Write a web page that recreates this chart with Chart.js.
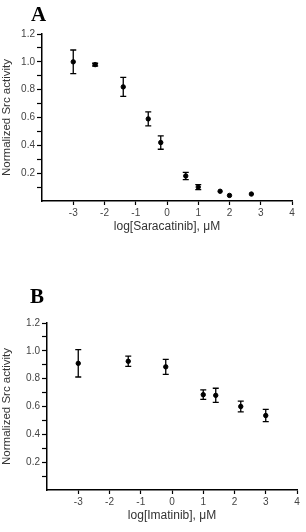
<!DOCTYPE html>
<html>
<head>
<meta charset="utf-8">
<script src="https://cdn.jsdelivr.net/npm/chart.js@4/dist/chart.umd.min.js"></script>
<style>
  html, body { margin: 0; padding: 0; background: #fff; }
  body { width: 306px; height: 532px; position: relative; overflow: hidden; }
  .panel { position: absolute; left: 0; width: 306px; height: 240px; }
  .tag { position: absolute; font: bold 21px "Liberation Serif", "Times New Roman", serif; line-height: 21px; color: #000; }
</style>
</head>
<body>
<div class="panel" style="top:0"><canvas id="chartA"></canvas></div>
<div class="panel" style="top:289px"><canvas id="chartB"></canvas></div>
<div class="tag" style="left:31px; top:4px">A</div>
<div class="tag" style="left:30px; top:286px">B</div>
<script>
// Panel A - Saracatinib
const saraLogConc = [-3, -2.3, -1.4, -0.6, -0.2, 0.6, 1.0, 1.7, 2.0, 2.7];
const saraActivity = [1.0, 0.98, 0.82, 0.59, 0.42, 0.18, 0.10, 0.07, 0.04, 0.05];
const saraError = [0.085, 0.01, 0.068, 0.05, 0.048, 0.026, 0.018, 0, 0, 0];

// Panel B - Imatinib
const imaLogConc = [-3, -1.4, -0.2, 1.0, 1.4, 2.2, 3.0];
const imaActivity = [0.91, 0.925, 0.885, 0.685, 0.68, 0.60, 0.535];
const imaError = [0.098, 0.037, 0.054, 0.034, 0.051, 0.038, 0.044];

const xTicks = [-3, -2, -1, 0, 1, 2, 3, 4];
const yTicks = ['0.2', '0.4', '0.6', '0.8', '1.0', '1.2'];

const yTitle = 'Normalized Src activity';

/* -------------------------------------------------------------------------- */
/* error bars drawn through the chart scales                                  */
/* -------------------------------------------------------------------------- */
const errorBars = {
  id: 'errorBars',
  afterDatasetsDraw(chart) {
    const { ctx, scales: { x, y } } = chart;
    const ds = chart.data.datasets[0];
    ctx.save();
    ctx.strokeStyle = '#000';
    ctx.lineWidth = 1.3;
    ds.data.forEach((p, i) => {
      const e = ds.errors[i];
      if (!e) return;
      const px = x.getPixelForValue(p.x);
      const top = y.getPixelForValue(p.y + e);
      const bot = y.getPixelForValue(p.y - e);
      ctx.beginPath();
      ctx.moveTo(px, top); ctx.lineTo(px, bot);
      ctx.moveTo(px - 3, top); ctx.lineTo(px + 3, top);
      ctx.moveTo(px - 3, bot); ctx.lineTo(px + 3, bot);
      ctx.stroke();
    });
    ctx.restore();
  }
};

function makeChart(id, xs, ys, errs, xTitle, leftW, rightPad) {
  const tickFont = { family: '"Liberation Sans Narrow", "Liberation Sans", Arial, sans-serif', size: 10 };
  return new Chart(document.getElementById(id), {
    type: 'scatter',
    data: {
      datasets: [{
        data: xs.map((v, i) => ({ x: v, y: ys[i] })),
        errors: errs,
        backgroundColor: '#000',
        borderColor: '#000',
        pointRadius: 2.2,
        pointHoverRadius: 2.2
      }]
    },
    options: {
      responsive: true,
      maintainAspectRatio: false,
      animation: false,
      events: [],
      layout: { padding: { top: 34, right: rightPad, bottom: 0, left: 0 } },
      plugins: { legend: { display: false }, tooltip: { enabled: false } },
      scales: {
        x: {
          type: 'linear',
          min: -4,
          max: 4,
          afterFit: s => { s.height = 39; },
          afterBuildTicks: s => { s.ticks = xTicks.map(v => ({ value: v })); },
          border: { color: '#000', width: 1.5 },
          grid: { drawOnChartArea: false, drawTicks: true, tickLength: 4, tickColor: '#000', tickWidth: 1.2 },
          ticks: { color: '#444', font: tickFont, padding: 2, callback: v => String(v) },
          title: {
            display: true,
            text: xTitle,
            color: '#333',
            font: { family: '"Liberation Sans", Arial, sans-serif', size: 12 },
            padding: { top: 0, bottom: 6 }
          }
        },
        y: {
          type: 'linear',
          min: 0,
          max: 1.2,
          afterFit: s => { s.width = leftW; },
          afterBuildTicks: s => {
            const t = [];
            for (let k = 1; k <= 12; k++) t.push({ value: k / 10 });
            s.ticks = t;
          },
          border: { color: '#000', width: 1.5 },
          grid: { drawOnChartArea: false, drawTicks: true, tickLength: 5, tickColor: '#000', tickWidth: 1.2 },
          ticks: {
            color: '#444',
            font: tickFont,
            padding: 2,
            callback: v => {
              const s = v.toFixed(1);
              return yTicks.includes(s) && Math.round(v * 10) % 2 === 0 ? s : '';
            }
          },
          title: {
            display: true,
            text: yTitle,
            color: '#333',
            font: { family: '"Liberation Sans", Arial, sans-serif', size: 11.5 },
            padding: 0
          }
        }
      }
    },
    plugins: [errorBars]
  });
}

makeChart('chartA', saraLogConc, saraActivity, saraError, 'log[Saracatinib], \u03BCM', 42, 14);
makeChart('chartB', imaLogConc, imaActivity, imaError, 'log[Imatinib], \u03BCM', 47, 9);
</script>
</body>
</html>
